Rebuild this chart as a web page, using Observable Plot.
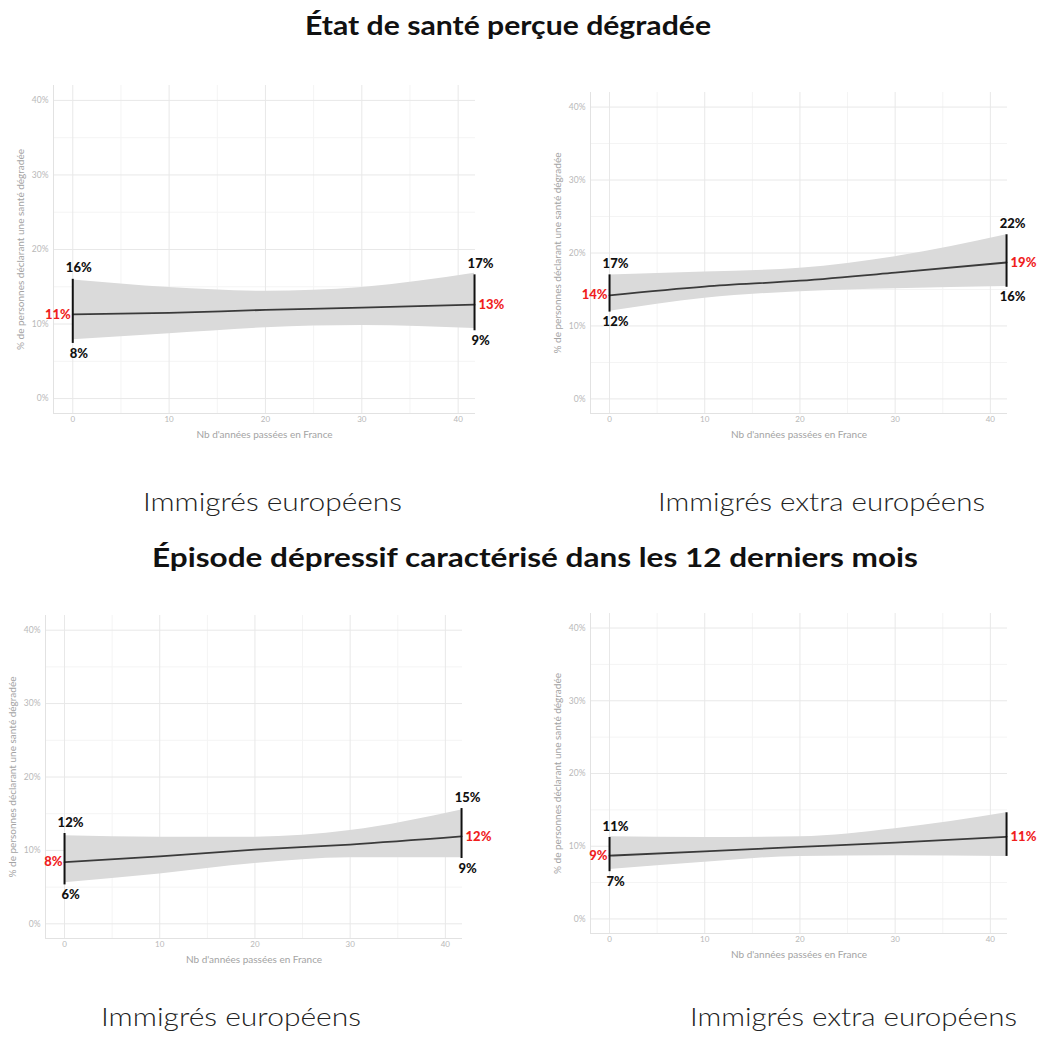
<!DOCTYPE html>
<html>
<head>
<meta charset="utf-8">
<script src="https://cdn.jsdelivr.net/npm/d3@7"></script>
<script src="https://cdn.jsdelivr.net/npm/@observablehq/plot@0.6"></script>
<style>
  html, body { margin: 0; padding: 0; background: #fff; overflow: hidden; }
  #root { position: relative; width: 1040px; height: 1037px; background: #fff; font-family: Lato, "Noto Sans", sans-serif; }
  .title { position: absolute; font-weight: 700; font-size: 26px; line-height: 26px; color: #111; white-space: nowrap; transform-origin: 0 50%; }
  .caption { position: absolute; font-weight: 300; font-size: 25px; line-height: 25px; color: #222; white-space: nowrap; transform-origin: 0 50%; }
  .panel { position: absolute; }
  .panel svg { overflow: visible; }
</style>
</head>
<body>
<div id="root"></div>
<script>
// ---- data ----
const years = [0, 10, 20, 30, 41.7];
const barYears = [0, 41.7];
const yTicks = [0, 10, 20, 30, 40];
const yMinor = [5, 15, 25, 35];
const xTicks = [0, 10, 20, 30, 40];
const xMinor = [5, 15, 25, 35];

const titles = ["État de santé perçue dégradée", "Épisode dépressif caractérisé dans les 12 derniers mois"];
const groupNames = ["Immigrés européens", "Immigrés extra européens"];
const yAxisLabel = "% de personnes déclarant une santé dégradée";
const xAxisLabel = "Nb d'années passées en France";

// Panel 1: santé perçue, européens
const p1Mean = [11.3, 11.5, 11.9, 12.2, 12.6];
const p1Low  = [7.9, 8.7, 9.5, 9.8, 9.4];
const p1High = [15.9, 14.9, 14.4, 14.9, 16.8];
const p1BarLow = [7.4, 9.1], p1BarHigh = [16.0, 16.6];
const p1LabTop = ["16%", "17%"], p1LabMid = ["11%", "13%"], p1LabBot = ["8%", "9%"];

// Panel 2: santé perçue, extra européens
const p2Mean = [14.2, 15.4, 16.2, 17.3, 18.7];
const p2Low  = [12.0, 13.8, 14.7, 15.1, 15.4];
const p2High = [17.0, 17.4, 17.9, 19.5, 22.5];
const p2BarLow = [11.9, 15.3], p2BarHigh = [17.0, 22.5];
const p2LabTop = ["17%", "22%"], p2LabMid = ["14%", "19%"], p2LabBot = ["12%", "16%"];

// Panel 3: épisode dépressif, européens
const p3Mean = [8.4, 9.2, 10.1, 10.8, 11.9];
const p3Low  = [5.6, 6.8, 8.2, 9.0, 9.0];
const p3High = [12.0, 11.8, 11.8, 12.7, 15.5];
const p3BarLow = [5.3, 8.9], p3BarHigh = [12.3, 15.7];
const p3LabTop = ["12%", "15%"], p3LabMid = ["8%", "12%"], p3LabBot = ["6%", "9%"];

// Panel 4: épisode dépressif, extra européens
const p4Mean = [8.7, 9.3, 9.9, 10.5, 11.3];
const p4Low  = [6.8, 7.8, 8.6, 8.7, 8.6];
const p4High = [11.3, 11.2, 11.3, 12.4, 14.6];
const p4BarLow = [6.5, 8.6], p4BarHigh = [11.2, 14.6];
const p4LabTop = ["11%", ""], p4LabMid = ["9%", "11%"], p4LabBot = ["7%", ""];

// ---- layout ----
const root = document.getElementById("root");

function addText(cls, text, x0, x1, top) {
  const d = document.createElement("div");
  d.className = cls;
  d.textContent = text;
  d.style.left = x0 + "px";
  d.style.top = top + "px";
  root.appendChild(d);
  const w = d.getBoundingClientRect().width;
  if (w > 0) d.style.transform = `scaleX(${(x1 - x0) / w})`;
}

function panel(mean, low, high, barLow, barHigh, labTop, labMid, labBot, box) {
  const rows = years.map((x, i) => ({x, mean: mean[i], lo: low[i], hi: high[i]}));
  const bars = barYears.map((x, i) => ({
    x, lo: barLow[i], hi: barHigh[i], mid: i === 0 ? mean[0] : mean[mean.length - 1],
    top: labTop[i], midLab: labMid[i], bot: labBot[i], side: i === 0 ? "left" : "right"
  }));
  const left = bars.filter(d => d.side === "left");
  const right = bars.filter(d => d.side === "right");
  const mL = 45, mR = 30, mT = 10, mB = 35;
  const lab = {fontFamily: "Lato", fontWeight: 900, fontSize: 13};
  const p = Plot.plot({
    width: box.w + mL + mR,
    height: box.h + mT + mB,
    marginLeft: mL, marginRight: mR, marginTop: mT, marginBottom: mB,
    x: {domain: [-2, 41.8]},
    y: {domain: [-2, 42]},
    style: {background: "transparent", fontFamily: "Lato", overflow: "visible"},
    marks: [
      Plot.gridY(yMinor, {stroke: "#f4f4f4", strokeOpacity: 1}),
      Plot.gridX(xMinor, {stroke: "#f4f4f4", strokeOpacity: 1}),
      Plot.gridY(yTicks, {stroke: "#e8e8e8", strokeOpacity: 1}),
      Plot.gridX(xTicks, {stroke: "#e8e8e8", strokeOpacity: 1}),
      Plot.ruleX([-2], {stroke: "#e2e2e2"}),
      Plot.ruleY([-2], {stroke: "#e2e2e2"}),
      Plot.axisY(yTicks, {tickSize: 0, tickPadding: 5, tickFormat: d => d + "%", fontSize: 8.5, color: "#b8b8b8", label: null}),
      Plot.axisX(xTicks, {tickSize: 0, tickPadding: 3, fontSize: 8, color: "#b8b8b8", label: null}),
      Plot.text([yAxisLabel], {frameAnchor: "left", textAnchor: "middle", dx: -33, rotate: -90, fontSize: 10, fill: "#a3a3a3"}),
      Plot.text([xAxisLabel], {frameAnchor: "bottom", textAnchor: "middle", dy: 24, fontSize: 10, fill: "#a3a3a3"}),
      Plot.areaY(rows, {x: "x", y1: "lo", y2: "hi", fill: "#dadada", curve: "monotone-x"}),
      Plot.line(rows, {x: "x", y: "mean", stroke: "#3a3a3a", strokeWidth: 1.8, curve: "monotone-x"}),
      Plot.ruleX(bars, {x: "x", y1: "lo", y2: "hi", stroke: "#111", strokeWidth: 2}),
      Plot.text(bars, {x: "x", y: "hi", text: "top", dy: -11, dx: 6, fill: "#111", ...lab}),
      Plot.text(bars, {x: "x", y: "lo", text: "bot", dy: 10, dx: 6, fill: "#111", ...lab}),
      Plot.text(left, {x: "x", y: "mid", text: "midLab", textAnchor: "end", dx: -2, fill: "#f01e1e", ...lab}),
      Plot.text(right, {x: "x", y: "mid", text: "midLab", textAnchor: "start", dx: 4, fill: "#f01e1e", ...lab})
    ]
  });
  const wrap = document.createElement("div");
  wrap.className = "panel";
  wrap.style.left = (box.l - mL) + "px";
  wrap.style.top = (box.t - mT) + "px";
  wrap.appendChild(p);
  root.appendChild(wrap);
}

panel(p1Mean, p1Low, p1High, p1BarLow, p1BarHigh, p1LabTop, p1LabMid, p1LabBot, {l: 53, t: 85, w: 422, h: 328});
panel(p2Mean, p2Low, p2High, p2BarLow, p2BarHigh, p2LabTop, p2LabMid, p2LabBot, {l: 590, t: 92, w: 417, h: 321});
panel(p3Mean, p3Low, p3High, p3BarLow, p3BarHigh, p3LabTop, p3LabMid, p3LabBot, {l: 45, t: 615, w: 417, h: 323});
panel(p4Mean, p4Low, p4High, p4BarLow, p4BarHigh, p4LabTop, p4LabMid, p4LabBot, {l: 590, t: 613, w: 417, h: 320});

addText("title", titles[0], 305, 711, 12);
addText("title", titles[1], 152, 918, 544);
addText("caption", groupNames[0], 143, 402, 489);
addText("caption", groupNames[1], 658, 985, 489);
addText("caption", groupNames[0], 101, 361, 1004);
addText("caption", groupNames[1], 690, 1017, 1004);
</script>
</body>
</html>
